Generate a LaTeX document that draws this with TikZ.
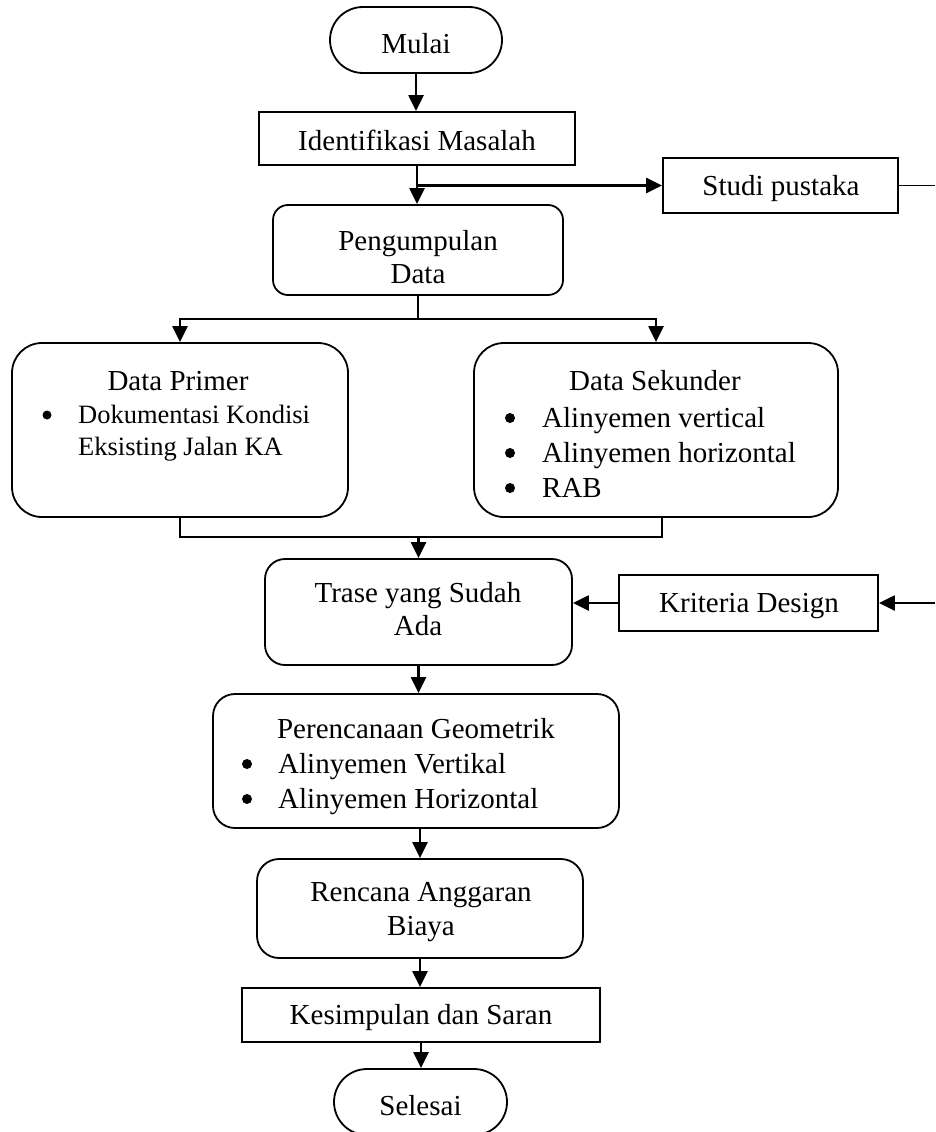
\documentclass[tikz,border=0pt]{standalone}
\usepackage{fontspec}
\setmainfont{Liberation Serif}
\usetikzlibrary{arrows.meta,calc}
\tikzset{
  box/.style={draw, line width=1.8pt, inner sep=0pt, rectangle},
  rbox/.style={box, rounded corners=#1},
  term/.style={box, rounded corners=33pt},
  txt/.style={anchor=base, inner sep=0pt},
  ltxt/.style={anchor=base west, inner sep=0pt},
  small/.style={font=\fontsize{26.5}{31}\selectfont},
  dot/.style={circle, fill=black, inner sep=0pt, minimum size=#1},
  arr/.style={line width=2.3pt, -{Triangle[width=15pt,length=16pt]}},
  ln/.style={line width=2.3pt},
  thinln/.style={line width=1.6pt}
}
\begin{document}
\begin{tikzpicture}[x=1pt,y=-1pt,font=\fontsize{29}{33.5}\selectfont]
\useasboundingbox (0,0) rectangle (935,1132);

% boxes
\node[term, minimum width=172, minimum height=66] (mulai) at (416,40) {};
\node[box, minimum width=316, minimum height=53] (ident) at (417,138.5) {};
\node[box, minimum width=235, minimum height=55] (studi) at (780.5,185.5) {};
\node[rbox=15pt, minimum width=290, minimum height=90] (peng) at (418,250) {};
\node[rbox=30pt, minimum width=336, minimum height=174] (primer) at (180,430) {};
\node[rbox=30pt, minimum width=364, minimum height=174] (sekunder) at (656,430) {};
\node[rbox=20pt, minimum width=307, minimum height=106] (trase) at (418.5,612) {};
\node[box, minimum width=259, minimum height=56] (krit) at (748.5,603) {};
\node[rbox=22pt, minimum width=406, minimum height=134] (peren) at (416,761) {};
\node[rbox=22pt, minimum width=326, minimum height=99] (renc) at (420,908.5) {};
\node[box, minimum width=358, minimum height=54] (kesim) at (421,1015) {};
\node[term, minimum width=173, minimum height=66] (selesai) at (420.5,1102) {};

% texts
\node[txt] (tmulai) at (416,53) {Mulai};
\node[txt] (tident) at (417,150) {Identifikasi Masalah};
\node[txt] (tstudi) at (781,195) {Studi pustaka};
\node[txt] (tpeng1) at (418,250) {Pengumpulan};
\node[txt] (tpeng2) at (418,283) {Data};

\node[txt] (tprim) at (178,390) {Data Primer};
\node[dot=9pt] (bp1) at (47,415) {};
\node[ltxt, small] (tprim1) at (78,423) {Dokumentasi Kondisi};
\node[ltxt, small] (tprim2) at (78,455) {Eksisting Jalan KA};

\node[txt] (tsek) at (655,390) {Data Sekunder};
\node[dot=10pt] (bs1) at (510,418) {};
\node[dot=10pt] (bs2) at (510,453) {};
\node[dot=10pt] (bs3) at (510,488) {};
\node[ltxt] (tsek1) at (542,427) {Alinyemen vertical};
\node[ltxt] (tsek2) at (542,462) {Alinyemen horizontal};
\node[ltxt] (tsek3) at (542,497) {RAB};

\node[txt] (ttrase1) at (418,602) {Trase yang Sudah};
\node[txt] (ttrase2) at (418,635) {Ada};
\node[txt] (tkrit) at (749,612) {Kriteria Design};

\node[txt] (tperen) at (416,738) {Perencanaan Geometrik};
\node[dot=10pt] (bpr1) at (247,764) {};
\node[dot=10pt] (bpr2) at (247,799) {};
\node[ltxt] (tperen1) at (278,773) {Alinyemen Vertikal};
\node[ltxt] (tperen2) at (278,808) {Alinyemen Horizontal};

\node[txt] (trenc1) at (421,901) {Rencana Anggaran};
\node[txt] (trenc2) at (421,935) {Biaya};
\node[txt] (tkesim) at (421,1024) {Kesimpulan dan Saran};
\node[txt] (tsel) at (420.5,1115) {Selesai};

% connectors
\draw[arr] (mulai.south) -- (mulai.south |- ident.north);
\draw[arr] (ident.south) -- (ident.south |- peng.north);
\coordinate (brA) at (ident.south |- studi.west);
\draw[arr] (brA) -- (studi.west);
\coordinate (eA) at (935,185.5);
\draw[thinln] (studi.east) -- (eA);

\coordinate (sp) at (418,319);
\draw[ln] (peng.south) -- (sp);
\draw[arr] (sp) -| (primer.north);
\draw[arr] (sp) -| (sekunder.north);

\coordinate (bl) at (180,537);
\coordinate (br) at (662,537);
\draw[thinln] (primer.south) -- (bl) -- (br) -- (br |- sekunder.south);
\draw[arr] (trase.north |- bl) -- (trase.north);

\draw[arr] (krit.west) -- (trase.east |- krit.west);
\coordinate (eB) at (935,603);
\draw[arr] (eB) -- (krit.east);

\draw[arr] (trase.south) -- (trase.south |- peren.north);
\draw[arr] (renc.north |- peren.south) -- (renc.north);
\draw[arr] (renc.south) -- (renc.south |- kesim.north);
\draw[arr] (kesim.south) -- (kesim.south |- selesai.north);
\end{tikzpicture}
\end{document}
